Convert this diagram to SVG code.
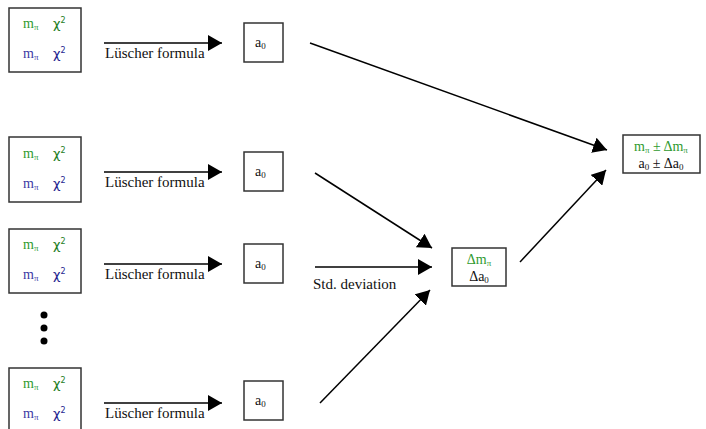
<svg xmlns="http://www.w3.org/2000/svg" width="706" height="429" viewBox="0 0 706 429">
<defs>
<marker id="ah" markerUnits="userSpaceOnUse" markerWidth="14" markerHeight="16" refX="14" refY="8" orient="auto">
<path d="M0,0 L14,8 L0,16 Z" fill="#000"/>
</marker>
<style>
.box{fill:#fff;stroke:#333;stroke-width:1.5}
.t{font-family:"Liberation Serif","DejaVu Serif",serif;font-size:14px}
.x{font-family:"DejaVu Sans",sans-serif;font-size:13px}
.g{fill:#2f9a2f}
.gd{fill:#1e7d1e}
.b{fill:#3b3ba5}
.bd{fill:#1f1f8f}
.k{fill:#111}
.lbl{font-family:"Liberation Serif","DejaVu Serif",serif;font-size:15px;fill:#111}
.sub{font-size:9px}
.sup{font-size:8px}
.c{stroke:#000;stroke-width:1.5;fill:none;marker-end:url(#ah)}
</style>
</defs>
<rect width="706" height="429" fill="#fff"/>

<g id="input1">
<rect class="box" x="9" y="8" width="72" height="64"/>
<text class="t g" x="23" y="28">m<tspan class="sub" dy="2">π</tspan></text>
<text class="x gd" x="53" y="28">χ<tspan class="sup" dy="-5">2</tspan></text>
<text class="t b" x="23" y="58">m<tspan class="sub" dy="2">π</tspan></text>
<text class="x bd" x="53" y="58">χ<tspan class="sup" dy="-5">2</tspan></text>
</g>
<g id="input2">
<rect class="box" x="9" y="137" width="72" height="65"/>
<text class="t g" x="23" y="158">m<tspan class="sub" dy="2">π</tspan></text>
<text class="x gd" x="53" y="158">χ<tspan class="sup" dy="-5">2</tspan></text>
<text class="t b" x="23" y="188">m<tspan class="sub" dy="2">π</tspan></text>
<text class="x bd" x="53" y="188">χ<tspan class="sup" dy="-5">2</tspan></text>
</g>
<g id="input3">
<rect class="box" x="9" y="229" width="72" height="64"/>
<text class="t g" x="23" y="249">m<tspan class="sub" dy="2">π</tspan></text>
<text class="x gd" x="53" y="249">χ<tspan class="sup" dy="-5">2</tspan></text>
<text class="t b" x="23" y="279">m<tspan class="sub" dy="2">π</tspan></text>
<text class="x bd" x="53" y="279">χ<tspan class="sup" dy="-5">2</tspan></text>
</g>
<g id="dots">
<circle cx="44" cy="315" r="3.5" fill="#000"/>
<circle cx="44" cy="328" r="3.5" fill="#000"/>
<circle cx="44" cy="341" r="3.5" fill="#000"/>
</g>
<g id="input4">
<rect class="box" x="9" y="368" width="72" height="64"/>
<text class="t g" x="23" y="388">m<tspan class="sub" dy="2">π</tspan></text>
<text class="x gd" x="53" y="388">χ<tspan class="sup" dy="-5">2</tspan></text>
<text class="t b" x="23" y="418">m<tspan class="sub" dy="2">π</tspan></text>
<text class="x bd" x="53" y="418">χ<tspan class="sup" dy="-5">2</tspan></text>
</g>

<g id="a0_1"><rect class="box" x="244" y="23" width="39" height="39"/><text class="t k" x="255" y="47">a<tspan class="sub" dy="2">0</tspan></text></g>
<g id="a0_2"><rect class="box" x="244" y="152" width="39" height="39"/><text class="t k" x="255" y="176">a<tspan class="sub" dy="2">0</tspan></text></g>
<g id="a0_3"><rect class="box" x="244" y="244" width="39" height="39"/><text class="t k" x="255" y="268">a<tspan class="sub" dy="2">0</tspan></text></g>
<g id="a0_4"><rect class="box" x="244" y="381" width="39" height="39"/><text class="t k" x="255" y="405">a<tspan class="sub" dy="2">0</tspan></text></g>

<g id="stddev">
<rect class="box" x="452" y="248" width="54" height="38"/>
<text class="t g" x="479" y="264" text-anchor="middle">Δm<tspan class="sub" dy="2">π</tspan></text>
<text class="t k" x="479" y="281" text-anchor="middle">Δa<tspan class="sub" dy="2">0</tspan></text>
</g>

<g id="result">
<rect class="box" x="623" y="135" width="77" height="38"/>
<text class="t g" x="661" y="151" text-anchor="middle">m<tspan class="sub" dy="2">π</tspan><tspan dy="-2"> ± Δm</tspan><tspan class="sub" dy="2">π</tspan></text>
<text class="t k" x="661" y="168" text-anchor="middle">a<tspan class="sub" dy="2">0</tspan><tspan dy="-2"> ± Δa</tspan><tspan class="sub" dy="2">0</tspan></text>
</g>

<g id="connectors">
<line class="c" x1="104" y1="43" x2="222" y2="43"/>
<line class="c" x1="104" y1="172" x2="222" y2="172"/>
<line class="c" x1="104" y1="264" x2="222" y2="264"/>
<line class="c" x1="104" y1="403" x2="222" y2="403"/>
<line class="c" x1="310" y1="43" x2="607" y2="150"/>
<line class="c" x1="315" y1="173" x2="432" y2="248"/>
<line class="c" x1="315" y1="267" x2="432" y2="267"/>
<line class="c" x1="320" y1="403" x2="430" y2="290"/>
<line class="c" x1="520" y1="262" x2="606" y2="170"/>
<text class="lbl" x="105" y="58">Lüscher formula</text>
<text class="lbl" x="105" y="187">Lüscher formula</text>
<text class="lbl" x="105" y="279">Lüscher formula</text>
<text class="lbl" x="105" y="418">Lüscher formula</text>
<text class="lbl" x="313" y="289">Std. deviation</text>
</g>
</svg>
